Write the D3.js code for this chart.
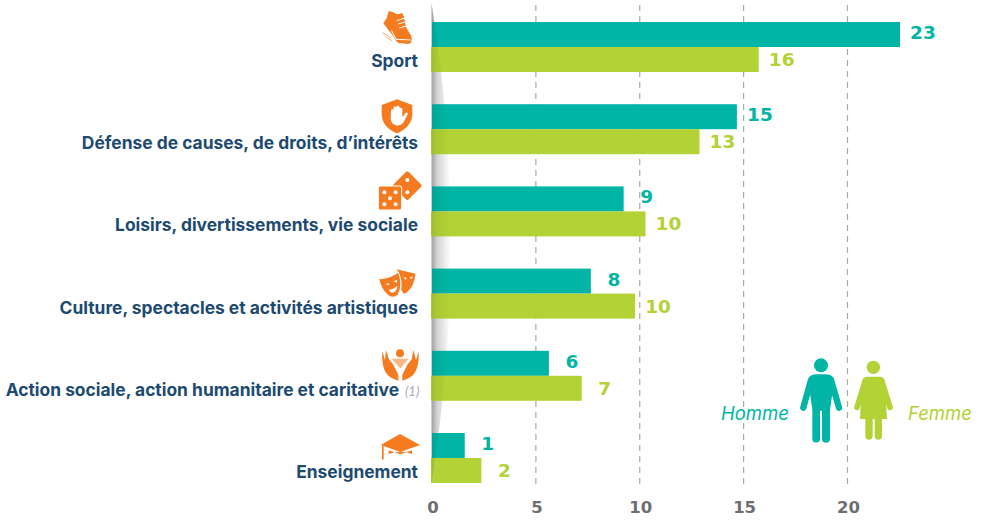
<!DOCTYPE html>
<html>
<head>
<meta charset="utf-8">
<script src="https://d3js.org/d3.v7.min.js"></script>
<style>
  html, body { margin: 0; padding: 0; background: #fff; }
  svg { display: block; }
</style>
</head>
<body>
<svg id="chart"></svg>
<script>
const w = 981;
const h = 521;

const categories = [
  "Sport",
  "Défense de causes, de droits, d’intérêts",
  "Loisirs, divertissements, vie sociale",
  "Culture, spectacles et activités artistiques",
  "Action sociale, action humanitaire et caritative",
  "Enseignement"
];
const homme = [22.55, 14.7, 9.25, 7.67, 5.65, 1.6];
const femme = [15.75, 12.9, 10.3, 9.8, 7.23, 2.4];
const hommeLabels = ["23", "15", "9", "8", "6", "1"];
const femmeLabels = ["16", "13", "10", "10", "7", "2"];
const xTicks = [0, 5, 10, 15, 20];

const teal = "#00b5a5";
const green = "#b2d235";
const navy = "#1d4a70";
const orange = "#f47b20";
const grey = "#6d6e71";

const chart = d3.select("#chart").attr("width", w).attr("height", h);

const xScale = d3.scaleLinear().domain([0, 20]).range([431.5, 847]);
const yScale = d3.scaleBand().domain(categories).range([22, 483]).paddingInner(0.392);
const serieScale = d3.scaleBand().domain(["homme", "femme"]).range([0, yScale.bandwidth()]);

// shadow gradient along the axis
const defs = chart.append("defs");
const grad = defs.append("linearGradient").attr("id", "axisShadow");
grad.append("stop").attr("offset", "0%").attr("stop-color", "#000").attr("stop-opacity", 0.3);
grad.append("stop").attr("offset", "30%").attr("stop-color", "#000").attr("stop-opacity", 0.13);
grad.append("stop").attr("offset", "100%").attr("stop-color", "#000").attr("stop-opacity", 0);

const shadowPath = "M431.5,3 Q470,240 431.5,484 Z";

// grid
const grid = chart.append("g")
  .attr("transform", "translate(0,484)")
  .call(d3.axisBottom(xScale).tickValues(xTicks.slice(1)).tickSize(-484).tickFormat(""));
grid.select(".domain").remove();
grid.selectAll("line")
  .attr("stroke", "#a7a9ac")
  .attr("stroke-width", 1.2)
  .attr("stroke-dasharray", "6 5");

// shadow on the white background
chart.append("path").attr("d", shadowPath).attr("fill", "url(#axisShadow)");

// bars
const rows = chart.append("g").selectAll("g")
  .data(categories)
  .join("g")
  .attr("transform", d => `translate(0,${yScale(d)})`);

rows.append("rect")
  .attr("x", xScale(0) + 0.5)
  .attr("y", serieScale("homme"))
  .attr("width", (d, i) => xScale(homme[i]) - xScale(0) - 0.5)
  .attr("height", serieScale.bandwidth())
  .attr("fill", teal);

rows.append("rect")
  .attr("x", xScale(0) - 0.5)
  .attr("y", serieScale("femme"))
  .attr("width", (d, i) => xScale(femme[i]) - xScale(0) + 0.5)
  .attr("height", serieScale.bandwidth())
  .attr("fill", green);

// lighter shadow over the bars
chart.append("path").attr("d", shadowPath).attr("fill", "url(#axisShadow)").attr("opacity", 0.35);

// value labels
rows.append("text")
  .attr("x", (d, i) => xScale(homme[i]) + 23)
  .attr("y", serieScale("homme") + 17)
  .attr("text-anchor", "middle")
  .attr("font-family", "DejaVu Sans")
  .attr("font-weight", "bold")
  .attr("font-size", 18.5)
  .attr("fill", teal)
  .text((d, i) => hommeLabels[i]);

rows.append("text")
  .attr("x", (d, i) => xScale(femme[i]) + 23)
  .attr("y", serieScale("femme") + 19)
  .attr("text-anchor", "middle")
  .attr("font-family", "DejaVu Sans")
  .attr("font-weight", "bold")
  .attr("font-size", 18.5)
  .attr("fill", green)
  .text((d, i) => femmeLabels[i]);

// category labels
rows.append("text")
  .attr("x", (d, i) => i === 4 ? 399 : 418)
  .attr("y", serieScale("femme") + 20)
  .attr("text-anchor", "end")
  .attr("font-family", "Inter")
  .attr("font-weight", "bold")
  .attr("font-size", 17.4)
  .attr("fill", navy)
  .text(d => d);

chart.append("text")
  .attr("x", 405).attr("y", 396)
  .attr("font-family", "Lato")
  .attr("font-style", "italic")
  .attr("font-size", 13)
  .attr("fill", "#a7a9c0")
  .text("(1)");

// x axis
const xAxisGroup = chart.append("g")
  .attr("transform", "translate(1,498)")
  .call(d3.axisBottom(xScale).tickValues(xTicks).tickSize(0).tickPadding(3));
xAxisGroup.select(".domain").remove();
xAxisGroup.selectAll("text")
  .attr("font-family", "DejaVu Sans")
  .attr("font-weight", "bold")
  .attr("font-size", 16.5)
  .attr("fill", grey);

// icons, drawn in the coordinates of a 3x crop
function icon(x, y) {
  return chart.append("g").attr("transform", `translate(${x},${y}) scale(${1 / 3})`);
}

// shoe
const shoe = icon(340, 0).attr("fill", orange);
shoe.append("path").attr("d", "M146,33 L160,37 C168,44 176,44 186,38 L192,50 L198,82 L214,108 Q219,130 205,132 L176,129 C164,122 160,106 150,96 L130,70 L140,55 Z");
shoe.append("path").attr("d", "M170,62 L192,55 M174,72 L196,66 M178,84 L200,78 M155,92 L168,118 L212,120")
  .attr("fill", "none").attr("stroke", "#fff").attr("stroke-width", 3);
shoe.append("path").attr("d", "M127,98 L152,112 M137,110 L156,122")
  .attr("fill", "none").attr("stroke", orange).attr("stroke-width", 2);

// shield with hand
const shield = icon(340, 0);
shield.append("path").attr("fill", orange)
  .attr("d", "M171,298 L217,315 L217,345 C215,375 190,392 171,400 C150,392 127,375 125,345 L125,315 Z");
shield.append("path").attr("fill", "#fff")
  .attr("d", "M153,330 Q158,326 160,330 L161,322 Q166,316 169,322 L171,318 Q176,316 178,320 L180,324 Q186,322 187,328 L187,352 L198,338 Q204,336 203,343 L190,368 Q182,378 168,376 Q155,374 152,358 Z");

// dice
const dice = icon(340, 170);
dice.append("rect").attr("x", 170).attr("y", 15).attr("width", 64).attr("height", 64).attr("rx", 5)
  .attr("fill", orange).attr("transform", "rotate(45 202 47)");
dice.append("rect").attr("x", 115).attr("y", 48).attr("width", 70).attr("height", 72).attr("rx", 6)
  .attr("fill", orange).attr("stroke", "#fff").attr("stroke-width", 3);
dice.selectAll("circle")
  .data([[202, 30], [202, 67], [133, 67], [167, 67], [150, 85], [133, 103], [167, 103]])
  .join("circle")
  .attr("cx", d => d[0]).attr("cy", d => d[1]).attr("r", 6).attr("fill", "#fff");

// masks
const masks = icon(340, 170);
masks.append("path").attr("fill", orange)
  .attr("d", "M170,298 L226,311 C224,340 212,362 192,372 L184,360 C186,340 184,320 170,298 Z");
masks.append("path").attr("fill", orange).attr("stroke", "#fff").attr("stroke-width", 3)
  .attr("d", "M116,326 C132,327 158,320 175,306 C184,330 186,352 174,374 C166,384 152,384 142,374 C128,362 120,345 116,326 Z");
masks.append("path").attr("fill", "#fff")
  .attr("d", "M136,342 L148,340 L146,346 Z M160,334 L171,330 L171,338 Z M146,360 Q160,358 172,348 Q172,364 158,368 Q150,368 146,360 Z M190,322 L200,324 L197,329 Z M208,324 L218,318 L216,326 Z");

// hands
const hands = icon(340, 340);
hands.append("circle").attr("cx", 180).attr("cy", 40).attr("r", 12).attr("fill", orange);
hands.append("path").attr("fill", "#fbb77f").attr("d", "M155,56 L206,56 L181,85 Z");
hands.append("path").attr("fill", orange)
  .attr("d", "M127,34 L135,60 L138,30 L147,58 L160,74 L175,104 L175,122 L160,116 C135,108 124,80 127,34 Z");
hands.append("path").attr("fill", orange)
  .attr("d", "M236,34 L228,60 L220,30 L215,58 L202,74 L187,104 L187,122 L202,116 C227,108 238,80 236,34 Z");

// graduation cap
const cap = icon(340, 340).attr("fill", orange);
cap.append("path").attr("d", "M122,315 L180,282 L240,315 L181,336 Z");
cap.append("path").attr("d", "M146,331 L181,343 L216,331 L216,342 Q181,328 146,342 Z");
cap.append("rect").attr("x", 126).attr("y", 318).attr("width", 5).attr("height", 40);

// legend figures
const man = icon(710, 340);
man.append("circle").attr("cx", 333).attr("cy", 76).attr("r", 21).attr("fill", teal);
man.append("path").attr("d", "M303,120 L280,203 M363,120 L387,203")
  .attr("stroke", teal).attr("stroke-width", 19).attr("stroke-linecap", "round");
man.append("path").attr("d", "M318,103 L348,103 Q372,103 372,125 L360,210 L360,296 A11,11 0 0 1 336,296 L336,212 L330,212 L330,296 A11,11 0 0 1 307,296 L307,210 L295,125 Q295,103 318,103 Z")
  .attr("fill", teal);

const woman = icon(710, 340);
woman.append("circle").attr("cx", 490).attr("cy", 82).attr("r", 20).attr("fill", green);
woman.append("path").attr("d", "M466,122 L441,202 M515,122 L540,202")
  .attr("stroke", green).attr("stroke-width", 17).attr("stroke-linecap", "round");
woman.append("path").attr("d", "M470,110 L511,110 Q522,112 525,125 L531,237 L516,237 L516,288 A11,11 0 0 1 494,288 L494,237 L488,237 L488,288 A11,11 0 0 1 466,288 L466,237 L450,237 L456,125 Q459,112 470,110 Z")
  .attr("fill", green);

// legend text
chart.append("text")
  .attr("x", 721).attr("y", 420)
  .attr("font-family", "Inter").attr("font-style", "italic").attr("font-size", 18.5)
  .attr("fill", teal).text("Homme");
chart.append("text")
  .attr("x", 908).attr("y", 420)
  .attr("font-family", "Inter").attr("font-style", "italic").attr("font-size", 18.5)
  .attr("fill", green).text("Femme");
</script>
</body>
</html>
